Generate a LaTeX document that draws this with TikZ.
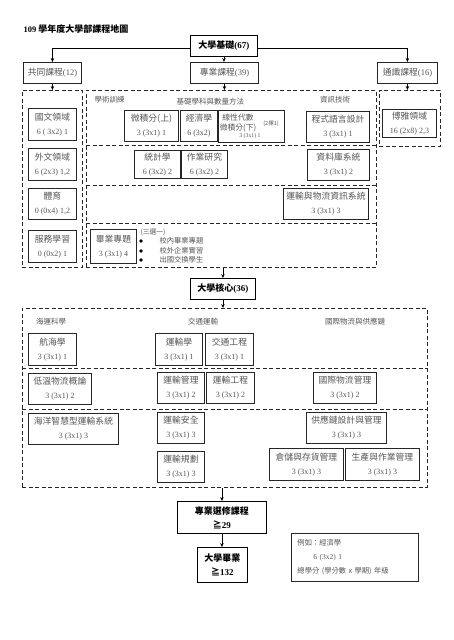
\documentclass[tikz,border=0pt]{standalone}
\usepackage{fontspec}
\setmainfont{Liberation Serif}
\newfontfamily\zhfont{Noto Sans CJK TC}
\usetikzlibrary{arrows.meta}
\newcommand{\zh}[1]{{\zhfont\fontsize{8.8}{14}\selectfont #1}}
\definecolor{inkgray}{RGB}{85,85,85}

\tikzset{
  course/.style={draw=black!85, line width=0.9pt, inner sep=0pt, anchor=north west,
    align=center, text=inkgray, font=\fontsize{8}{14}\selectfont},
  keybox/.style={course, draw=black, text=black, font=\bfseries\fontsize{9}{14}\selectfont},
  region/.style={draw=black!85, dash pattern=on 4pt off 2.5pt, line width=0.9pt,
    inner sep=0pt, anchor=north west},
  divider/.style={draw=black!85, dash pattern=on 4pt off 2.5pt, line width=0.9pt},
  area/.style={text=inkgray, font=\zhfont\fontsize{7.5}{10}\selectfont, align=center},
  arr/.style={-{Stealth[length=4pt,width=3.5pt]}, line width=0.7pt, draw=black},
  dot/.style={circle, fill=black, inner sep=0pt, minimum size=3.6pt},
}

\begin{document}
\begin{tikzpicture}[x=1pt, y=-1pt]
\useasboundingbox (0,0) rectangle (453,640);

% title
\node[anchor=west, font=\bfseries\fontsize{8.5}{10}\selectfont] (title) at (20,29)
  {109 {\zhfont\fontsize{9}{10}\selectfont 學年度大學部課程地圖}};

% top level
\node[keybox, minimum width=67pt, minimum height=21pt] (jichu) at (190,35) {{\zhfont 大學基礎}(67)};
\node[course, font=\fontsize{8.5}{14}\selectfont, minimum width=58pt, minimum height=21pt] (gong) at (23,62) {\zh{共同課程}(12)};
\node[course, font=\fontsize{8.5}{14}\selectfont, minimum width=68pt, minimum height=21pt] (zhuan) at (190,62) {\zh{專業課程}(39)};
\node[course, font=\fontsize{8.5}{14}\selectfont, minimum width=60pt, minimum height=21pt] (tong) at (377,62) {\zh{通識課程}(16)};

\draw[arr] ([yshift=-2.5pt]jichu.west) -| (gong.north);
\draw[arr] ([yshift=-2.5pt]jichu.east) -| (tong.north);
\draw[arr] (jichu.south) -- (jichu.south |- zhuan.north);

% regions of the foundation
\node[region, minimum width=60pt, minimum height=177pt] (gongreg) at (22,90) {};
\node[region, minimum width=290pt, minimum height=177pt] (zhuanreg) at (86,90) {};
\node[region, minimum width=61pt, minimum height=56pt] (tongreg) at (379,90) {};
\draw[divider] (zhuanreg.west |- 0,145) -- (zhuanreg.east |- 0,145);
\draw[divider] (zhuanreg.west |- 0,185) -- (zhuanreg.east |- 0,185);
\draw[divider] (zhuanreg.west |- 0,223) -- (zhuanreg.east |- 0,223);

\draw[arr] (gong.south) -- (gong.south |- gongreg.north);
\draw[arr] (zhuan.south) -- (zhuan.south |- zhuanreg.north);
\draw[arr] (tong.south) -- (tong.south |- tongreg.north);

% common courses
\node[course, minimum width=48pt, minimum height=32pt] (guowen) at (28,108) {\zh{國文領域}\\6 ( 3x2) 1};
\node[course, minimum width=48pt, minimum height=32pt] (waiwen) at (28,148) {\zh{外文領域}\\6 (2x3) 1,2};
\node[course, minimum width=48pt, minimum height=31pt] (tiyu) at (28,188) {\zh{體育}\\0 (0x4) 1,2};
\node[course, minimum width=48pt, minimum height=32pt] (fuwu) at (28,230) {\zh{服務學習}\\0 (0x2) 1};

% professional courses
\node[area, anchor=west] (xueshu) at (91,100) {學術訓練};
\node[area, anchor=west] (shuliang) at (173,102) {基礎學科與數量方法};
\node[area] (zixun) at (335,100) {資訊技術};

\node[course, minimum width=54pt, minimum height=31pt] (weiji) at (124,110) {\zh{微積分(上)}\\3 (3x1) 1};
\node[course, minimum width=37pt, minimum height=31pt] (jingji) at (180,110) {\zh{經濟學}\\6 (3x2)};
\node[course, minimum width=66pt, minimum height=32pt] (xiandai) at (218,110) {};
\node[area, font=\zhfont\fontsize{7.8}{10}\selectfont] (xiantxt) at (238,123) {線性代數\\微積分(下)};
\node[area, font=\zhfont\fontsize{5.5}{7}\selectfont] (zexuan) at (271,124) {(2擇1)};
\node[text=inkgray, font=\fontsize{5.8}{7}\selectfont] (xiancr) at (250,136) {3 (3x1) 1};
\node[course, minimum width=63pt, minimum height=31pt] (chengshi) at (306,111) {\zh{程式語言設計}\\3 (3x1) 1};

\node[course, minimum width=46pt, minimum height=28pt] (tongjixue) at (134,150) {\zh{統計學}\\6 (3x2) 2};
\node[course, minimum width=46pt, minimum height=28pt] (zuoye) at (181,150) {\zh{作業研究}\\6 (3x2) 2};
\node[course, minimum width=62pt, minimum height=31pt] (ziliao) at (307,149) {\zh{資料庫系統}\\3 (3x1) 2};

\node[course, minimum width=85pt, minimum height=31pt] (wuliuxx) at (283,188) {\zh{運輸與物流資訊系統}\\3 (3x1) 3};

\node[course, minimum width=46pt, minimum height=34pt] (biyezt) at (90,229) {\zh{畢業專題}\\3 (3x1) 4};
\node[area, anchor=west, font=\zhfont\fontsize{6.8}{8}\selectfont] (sanxuan) at (137,232) {(三選一)};
\foreach \yy/\nm/\txt in {241/a/校內畢業專題, 251/b/校外企業實習, 260/c/出國交換學生} {
  \node[dot] (dot\nm) at (141,\yy) {};
  \node[area, anchor=west, font=\zhfont\fontsize{7.3}{8}\selectfont] (item\nm) at (156,\yy) {\txt};
}

% general education
\node[course, minimum width=54pt, minimum height=28pt] (boya) at (382,109) {\zh{博雅領域}\\16 (2x8) 2,3};

% core
\node[keybox, minimum width=65pt, minimum height=21pt] (hexin) at (190,278) {{\zhfont 大學核心}(36)};
\draw[arr] (hexin.north |- zhuanreg.south) -- (hexin.north);

\node[region, minimum width=405pt, minimum height=179pt] (corereg) at (22,308) {};
\draw[divider] (corereg.west |- 0,368) -- (corereg.east |- 0,368);
\draw[divider] (corereg.west |- 0,409) -- (corereg.east |- 0,409);
\draw[arr] (hexin.south) -- (hexin.south |- corereg.north);

\node[area] (haiyun) at (51,322) {海運科學};
\node[area] (jiaotong) at (203,322) {交通運輸};
\node[area] (gongyinglian) at (355,322) {國際物流與供應鏈};

\node[course, minimum width=48pt, minimum height=32pt] (hanghai) at (28,333) {\zh{航海學}\\3 (3x1) 1};
\node[course, minimum width=47pt, minimum height=32pt] (yunshuxue) at (155,333) {\zh{運輸學}\\3 (3x1) 1};
\node[course, minimum width=48pt, minimum height=32pt] (jtgc) at (205,333) {\zh{交通工程}\\3 (3x1) 1};

\node[course, minimum width=63pt, minimum height=31pt] (diwen) at (28,373) {\zh{低溫物流概論}\\3 (3x1) 2};
\node[course, minimum width=47pt, minimum height=31pt] (ysgl) at (157,372) {\zh{運輸管理}\\3 (3x1) 2};
\node[course, minimum width=48pt, minimum height=31pt] (ysgc) at (206,372) {\zh{運輸工程}\\3 (3x1) 2};
\node[course, minimum width=63pt, minimum height=31pt] (gjwl) at (313,372) {\zh{國際物流管理}\\3 (3x1) 2};

\node[course, minimum width=90pt, minimum height=31pt] (haiyang) at (28,413) {\zh{海洋智慧型運輸系統}\\3 (3x1) 3};
\node[course, minimum width=47pt, minimum height=31pt] (ysaq) at (157,412) {\zh{運輸安全}\\3 (3x1) 3};
\node[course, minimum width=47pt, minimum height=31pt] (ysgh) at (157,451) {\zh{運輸規劃}\\3 (3x1) 3};
\node[course, minimum width=80pt, minimum height=31pt] (gylsj) at (306,412) {\zh{供應鏈設計與管理}\\3 (3x1) 3};
\node[course, minimum width=74pt, minimum height=32pt] (cangchu) at (269,448) {\zh{倉儲與存貨管理}\\3 (3x1) 3};
\node[course, minimum width=74pt, minimum height=32pt] (shengchan) at (345,448) {\zh{生產與作業管理}\\3 (3x1) 3};

% electives and graduation
\node[keybox, minimum width=89pt, minimum height=32pt] (xuanxiu) at (177,501) {{\zhfont 專業選修課程}\\{\zhfont ≧}29};
\node[keybox, minimum width=50pt, minimum height=35pt] (biye) at (197,547) {{\zhfont 大學畢業}\\{\zhfont ≧}132};
\draw[arr] (xuanxiu.north |- corereg.south) -- (xuanxiu.north);
\draw[arr] (xuanxiu.south) -- (xuanxiu.south |- biye.north);

% legend
\node[course, align=left, text width=115pt, inner xsep=6pt, minimum height=48pt,
  font=\zhfont\fontsize{7.3}{14}\selectfont] (legend) at (291,533)
  {例如：經濟學\\\hspace*{16pt}{\rmfamily\fontsize{7.5}{14}\selectfont 6 (3x2) 1}\\總學分 (學分數 x 學期) 年級};

\end{tikzpicture}
\end{document}
